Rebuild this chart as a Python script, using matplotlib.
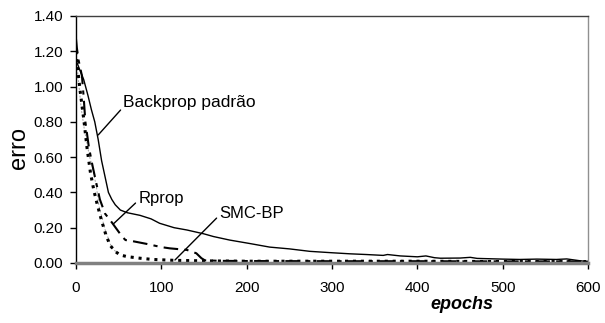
import matplotlib
matplotlib.use("Agg")
import matplotlib.pyplot as plt

plt.rcParams['font.family'] = ['Liberation Sans', 'DejaVu Sans']

# Backprop padrão (solid)
bp_x = [0, 4, 9, 14, 18, 22, 26, 30, 34, 38, 42, 46, 52, 60, 75, 88, 98, 115, 130, 150,
        161, 180, 192, 204, 227, 250, 274, 300, 321, 340, 360, 365, 380, 400, 410, 420,
        427, 450, 462, 470, 500, 520, 540, 563, 575, 590, 599]
bp_y = [1.15, 1.10, 1.04, 0.95, 0.87, 0.80, 0.70, 0.58, 0.49, 0.40, 0.36, 0.33, 0.30, 0.285,
        0.27, 0.25, 0.225, 0.20, 0.187, 0.165, 0.15, 0.13, 0.12, 0.11, 0.09, 0.08, 0.066,
        0.058, 0.052, 0.048, 0.043, 0.048, 0.040, 0.035, 0.040, 0.030, 0.027, 0.028, 0.032,
        0.026, 0.022, 0.020, 0.022, 0.020, 0.023, 0.013, 0.008]

# Rprop (dash-dot)
rp_x = [0, 1, 3, 7, 9, 11, 15, 19, 23, 28, 34, 42, 48, 54, 58, 65, 83, 100, 110, 130,
        141, 147, 151, 170, 200, 300, 400, 500, 600]
rp_y = [1.27, 1.22, 1.15, 1.06, 0.94, 0.80, 0.66, 0.56, 0.47, 0.36, 0.28, 0.23, 0.19, 0.15,
        0.13, 0.125, 0.108, 0.09, 0.083, 0.074, 0.055, 0.027, 0.015, 0.012, 0.011, 0.010,
        0.010, 0.009, 0.009]

# SMC-BP (heavy dotted)
smc_x = [0, 2, 5, 9, 13, 17, 21, 25, 30, 35, 40, 46, 52, 60, 75, 90, 115, 150, 200, 300,
         400, 500, 600]
smc_y = [1.20, 1.10, 0.97, 0.82, 0.65, 0.51, 0.41, 0.33, 0.24, 0.16, 0.10, 0.065, 0.045,
         0.036, 0.027, 0.020, 0.015, 0.012, 0.010, 0.010, 0.010, 0.008, 0.008]

# unlabeled thin gray dotted
gr_x = [2, 6, 10, 16, 19, 24, 27, 34, 42, 44, 48]
gr_y = [1.08, 0.88, 0.75, 0.60, 0.55, 0.43, 0.32, 0.19, 0.085, 0.075, 0.06]

x_ticks = [0, 100, 200, 300, 400, 500, 600]
y_ticks = [0.00, 0.20, 0.40, 0.60, 0.80, 1.00, 1.20, 1.40]

fig = plt.figure(figsize=(6.05, 3.23), dpi=100)
ax = fig.add_axes([0.1256, 0.1858, 0.972 - 0.1256, 0.9505 - 0.1858])

ax.plot(gr_x, gr_y, color='#a0a0a0', lw=0.7, ls=(0, (2, 2)))
ax.plot(bp_x, bp_y, color='black', lw=1.0)
ax.plot(rp_x, rp_y, color='black', lw=1.5, ls=(0, (7, 3, 2, 3)))
ax.plot(smc_x, smc_y, color='black', lw=2.2, ls=(0, (1, 1.6)))

ax.set_xlim(0, 600)
ax.set_ylim(0, 1.4)
ax.set_xticks(x_ticks)
ax.set_yticks(y_ticks)
ax.set_yticklabels([f"{v:.2f}" for v in y_ticks])
ax.tick_params(direction='out', length=4, width=1, labelsize=11, color='black')
ax.tick_params(axis='x', pad=9)
ax.tick_params(axis='y', pad=5)

ax.spines['left'].set_color('black')
ax.spines['left'].set_linewidth(1.0)
ax.spines['bottom'].set_color('#808080')
ax.spines['bottom'].set_linewidth(2.5)
ax.spines['top'].set_color('#404040')
ax.spines['top'].set_linewidth(1.0)
ax.spines['right'].set_color('#909090')
ax.spines['right'].set_linewidth(1.0)

ax.text(-0.112, 0.466, 'erro', transform=ax.transAxes, rotation=90,
        ha='center', va='center', fontsize=17)
ax.annotate('epochs', xy=(452, -0.17), xycoords=('data', 'axes fraction'),
            ha='center', va='center', fontsize=13, fontweight='bold', fontstyle='italic',
            annotation_clip=False)

# annotations
ax.annotate('Backprop padrão', xy=(26.1, 0.726), xytext=(55.5, 0.91),
            fontsize=12.5, va='center', ha='left',
            arrowprops=dict(arrowstyle='-', color='black', lw=1.0, shrinkA=0, shrinkB=0,
                            relpos=(0, 0.2)))
ax.annotate('Rprop', xy=(43.7, 0.221), xytext=(73, 0.363),
            fontsize=12, va='center', ha='left',
            arrowprops=dict(arrowstyle='-', color='black', lw=1.0, shrinkA=0, shrinkB=0,
                            relpos=(0, 0.4)))
ax.annotate('SMC-BP', xy=(116, 0.017), xytext=(168, 0.283),
            fontsize=12, va='center', ha='left',
            arrowprops=dict(arrowstyle='-', color='black', lw=1.0, shrinkA=0, shrinkB=0,
                            relpos=(0, 0.35)))

fig.savefig('out.png', dpi=100)
